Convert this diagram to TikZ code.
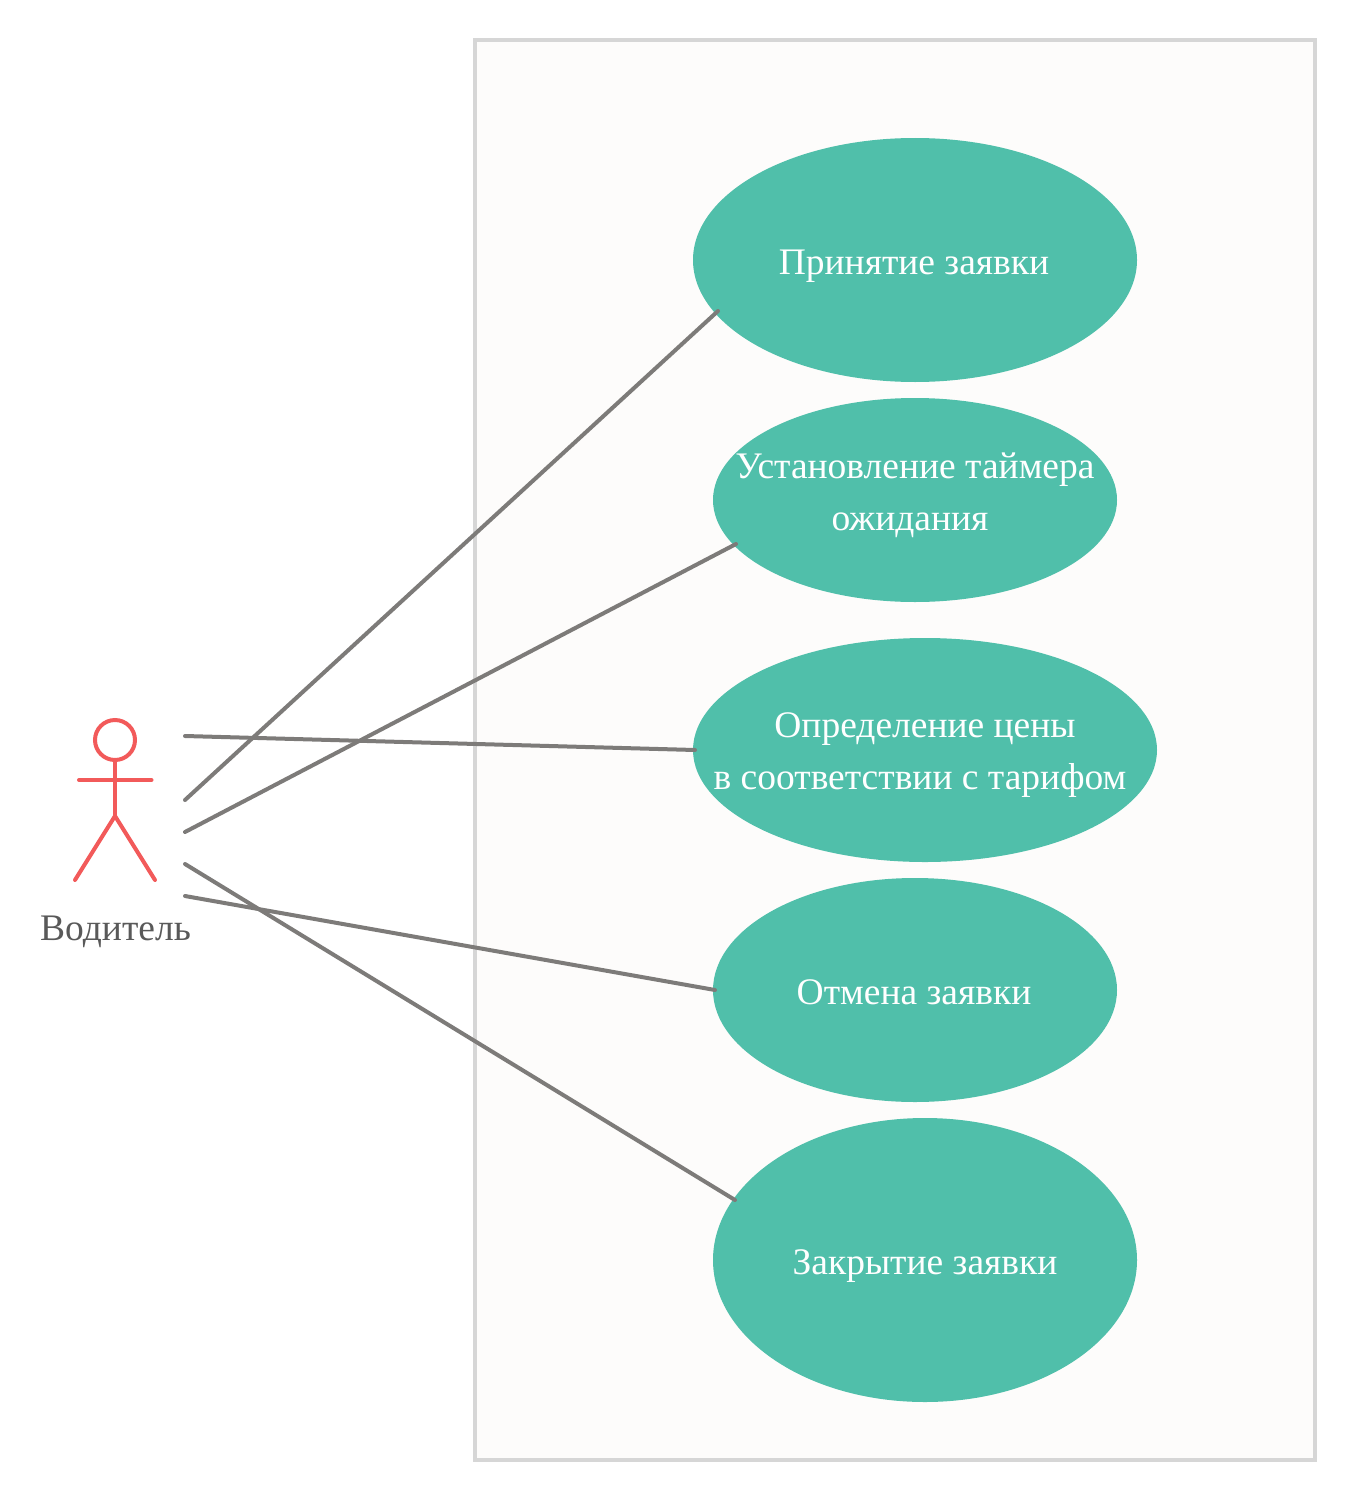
\documentclass[tikz,border=0pt]{standalone}
\usepackage{fontspec}
\setmainfont{Liberation Serif}
\usetikzlibrary{shapes.geometric}
\definecolor{teal1}{HTML}{50BFAA}
\definecolor{frameC}{HTML}{D6D6D6}
\definecolor{bgC}{HTML}{FDFCFB}
\definecolor{lineC}{HTML}{7D7B79}
\definecolor{actorC}{HTML}{F25A5A}
\definecolor{labelC}{HTML}{595959}
\tikzset{
  usecase/.style={ellipse,fill=teal1,inner sep=0pt,outer sep=0pt},
  caption/.style={text=white,align=center,inner sep=0pt,font=\fontsize{37.5}{52}\selectfont},
  oneline/.style={caption,text height=25pt,text depth=9pt},
  conn/.style={draw=lineC,line width=4pt,line cap=round},
  figure/.style={draw=actorC,line width=4pt,line cap=round,line join=round}
}
\begin{document}
\begin{tikzpicture}[x=1pt,y=-1pt]
\useasboundingbox (0,0) rectangle (1355,1501);
\node[draw=frameC,fill=bgC,line width=4pt,minimum width=840pt,minimum height=1420pt,inner sep=0pt] (frame) at (895,750) {};
\node[usecase,minimum width=444pt,minimum height=244pt] (a) at (915,260) {};
\node[usecase,minimum width=404pt,minimum height=204pt] (b) at (915,500) {};
\node[usecase,minimum width=464pt,minimum height=224pt] (c) at (925,750) {};
\node[usecase,minimum width=404pt,minimum height=224pt] (d) at (915,990) {};
\node[usecase,minimum width=424pt,minimum height=284pt] (e) at (925,1260) {};
\node[oneline] (ta) at (914,266) {Принятие заявки};
\node[caption] (tb) at (915,495.5) {Установление таймера\\\hspace*{-10pt}ожидания};
\node[caption] (tc) at (920,755.5) {\hspace*{10pt}Определение цены\\в соответствии с тарифом};
\node[oneline] (td) at (914,996) {Отмена заявки};
\node[oneline] (te) at (925,1266) {Закрытие заявки};
\node[oneline,text=labelC] (lab) at (115.5,932) {Водитель};
\node[circle,draw=actorC,line width=4pt,minimum size=40pt,inner sep=0pt] (head) at (115,740) {};
\coordinate (hip) at (115,816);
\coordinate (armL) at (79,780);
\coordinate (armR) at (151.5,780);
\coordinate (footL) at (75,880);
\coordinate (footR) at (155,880);
\draw[figure] (head.south) -- (hip);
\draw[figure] (armL) -- (armR);
\draw[figure] (footL) -- (hip) -- (footR);
\coordinate (s1) at (185,800);
\coordinate (s2) at (185,832);
\coordinate (s3) at (185,736);
\coordinate (s4) at (185,896);
\coordinate (s5) at (185,864);
\coordinate (e1) at (718,311);
\coordinate (e2) at (736,544);
\coordinate (e3) at (695,750);
\coordinate (e4) at (715,990);
\coordinate (e5) at (735,1200);
\draw[conn] (s1) -- (e1);
\draw[conn] (s2) -- (e2);
\draw[conn] (s3) -- (e3);
\draw[conn] (s4) -- (e4);
\draw[conn] (s5) -- (e5);
\end{tikzpicture}
\end{document}
